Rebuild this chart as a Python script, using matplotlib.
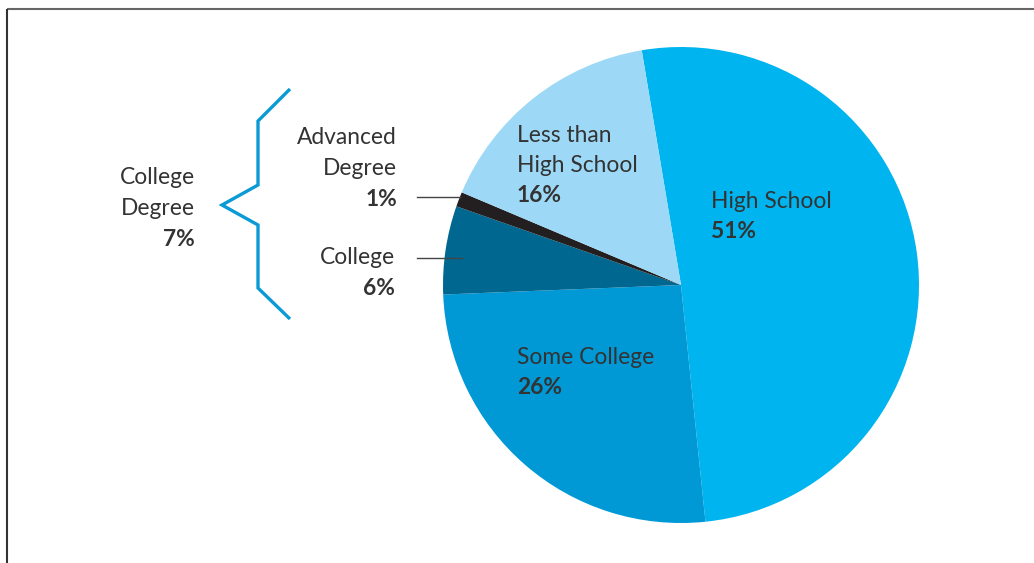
import matplotlib.pyplot as plt

# education shares (%), clockwise from the top
labels = ["High School", "Some College", "College", "Advanced\nDegree", "Less than\nHigh School"]
shares = [51, 26, 6, 1, 16]
colors = ["#00b5ef", "#0099d5", "#006890", "#231f20", "#9dd9f6"]
college_degree = shares[2] + shares[3]

W, H = 1034, 563
fig = plt.figure(figsize=(W / 100, H / 100), dpi=100)
ax = fig.add_axes([0, 0, 1, 1])

def y(v):
    # image rows -> data y
    return H - v

cx, cy, r = 681, y(285), 238
ax.pie(shares, colors=colors, center=(cx, cy), radius=r, startangle=99.5,
       counterclock=False, wedgeprops=dict(linewidth=0), frame=True)
ax.set_xlim(0, W)
ax.set_ylim(0, H)
ax.set_aspect("equal")
ax.axis("off")

# frame lines
ax.plot([7, W], [y(9), y(9)], color="#666666", lw=1.5, solid_capstyle="butt")
ax.plot([7, 7], [y(9), 0], color="#333333", lw=1.5, solid_capstyle="butt")

font = "Lato"
txt = "#333333"
fs = 16.4

def label(x, ytop, name, pct, ha):
    lines = name.split("\n")
    for i, ln in enumerate(lines):
        ax.text(x, y(ytop + i * 30.5), ln, ha=ha, va="center", fontsize=fs,
                color=txt, family=font)
    ax.text(x, y(ytop + len(lines) * 30.5), f"{pct}%", ha=ha, va="center",
            fontsize=fs, color=txt, family=font, fontweight="bold")

label(711, 201, labels[0], shares[0], "left")
label(517, 357, labels[1], shares[1], "left")
label(395, 258, labels[2], shares[2], "right")
label(397, 138, labels[3], shares[3], "right")
label(517, 135, labels[4], shares[4], "left")
label(195, 178, "College\nDegree", college_degree, "right")

# leader lines
ax.plot([417, 460], [y(197), y(197)], color="#444444", lw=1)
ax.plot([417, 462], [y(258), y(258)], color="#444444", lw=1)

# brace
bx = [290, 258, 258, 222, 258, 258, 290]
by = [89, 121, 185, 205, 225, 288, 319]
ax.plot(bx, [y(v) for v in by], color="#0a9ad6", lw=2.4,
        solid_joinstyle="miter", solid_capstyle="butt")

fig.savefig("out.png", dpi=100)
